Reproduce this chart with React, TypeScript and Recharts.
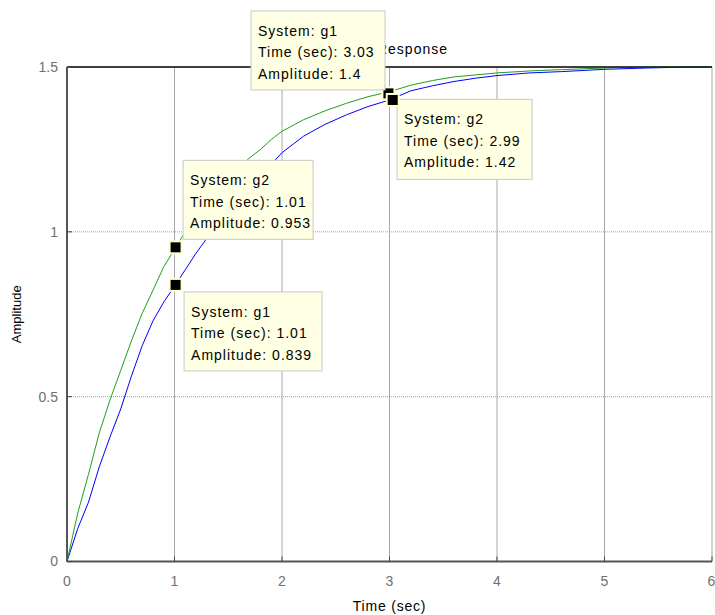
import React from "react";
import {
  LineChart,
  Line,
  XAxis,
  YAxis,
  CartesianGrid,
  ReferenceDot,
  ReferenceLine,
  Label,
} from "recharts";

// step response samples
const times = [
  0, 0.1, 0.2, 0.3, 0.4, 0.5, 0.6, 0.7, 0.8, 0.9, 1.0, 1.1, 1.2, 1.3, 1.4, 1.5,
  1.6, 1.7, 1.8, 1.9, 2.0, 2.2, 2.4, 2.6, 2.8, 3.0, 3.2, 3.4, 3.6, 3.8, 4.0,
  4.3, 4.6, 5.0, 5.4, 5.8, 6.0,
];
const g1Values = [
  0, 0.1, 0.18, 0.287, 0.378, 0.463, 0.563, 0.655, 0.73, 0.787, 0.835, 0.885,
  0.935, 0.98, 1.02, 1.06, 1.095, 1.13, 1.165, 1.205, 1.24, 1.29, 1.326, 1.355,
  1.38, 1.4, 1.428, 1.443, 1.456, 1.466, 1.474, 1.482, 1.486, 1.493, 1.497, 1.5,
  1.5,
];
const g2Values = [
  0, 0.147, 0.265, 0.39, 0.49, 0.58, 0.67, 0.753, 0.823, 0.894, 0.947, 1.0,
  1.05, 1.095, 1.135, 1.165, 1.195, 1.225, 1.25, 1.28, 1.305, 1.34, 1.367, 1.39,
  1.41, 1.425, 1.445, 1.459, 1.47, 1.476, 1.482, 1.488, 1.492, 1.497, 1.5, 1.5,
  1.5,
];

const xTicks = [0, 1, 2, 3, 4, 5, 6];
const yTicks = [0, 0.5, 1, 1.5];
const yGridValues = [0.5, 1];

// data tips
const tipSystems = ["g2", "g1", "g2", "g1"];
const tipTimes = [1.01, 1.01, 2.99, 3.03];
const tipAmplitudes = [0.953, 0.839, 1.42, 1.4];

// box placement relative to the marker (px)
const tipBoxes = [
  { dx: 7.5, dy: -87, w: 130, h: 79 },
  { dx: 8.5, dy: 7, w: 138, h: 79 },
  { dx: 8.6, dy: 6, w: 135, h: 80 },
  { dx: -141.7, dy: -89, w: 134, h: 79 },
];

const data = times.map((t, i) => ({ t, g1: g1Values[i], g2: g2Values[i] }));

const font = "'Liberation Sans', Arial, Helvetica, sans-serif";

const tipShape = (i: number) => (p: any) => {
  const { cx, cy } = p;
  const b = tipBoxes[i];
  const bx = cx + b.dx;
  const by = cy + b.dy;
  const lines = [
    `System: ${tipSystems[i]}`,
    `Time (sec): ${tipTimes[i]}`,
    `Amplitude: ${tipAmplitudes[i]}`,
  ];
  return (
    <g>
      <rect x={cx - 6} y={cy - 6} width={12} height={12} fill="#000" stroke="#ffffd0" strokeWidth={2} />
      <rect x={bx} y={by} width={b.w} height={b.h} fill="#ffffe3" stroke="#c8c8c8" />
      {lines.map((s, k) => (
        <text
          key={k}
          x={bx + 7}
          y={by + 25 + k * 21.3}
          fontSize={14}
          fontFamily={font}
          letterSpacing={1}
          fill="#000"
        >
          {s}
        </text>
      ))}
    </g>
  );
};

export default function App() {
  return (
    <div style={{ position: "absolute", left: 0, top: 0, width: 715, height: 615, background: "#fff" }}>
      <div
        style={{
          position: "absolute",
          left: 0,
          top: 41,
          width: 448,
          textAlign: "right",
          fontFamily: font,
          fontSize: 14,
          letterSpacing: 1,
          color: "#000",
        }}
      >
        Step Response
      </div>
      <div style={{ position: "absolute", left: 0, top: 0 }}>
        <LineChart width={715} height={615} data={data} margin={{ top: 66, right: 3, bottom: 0, left: 0 }}>
          <CartesianGrid horizontal={false} stroke="#a8a8a8" />
          <CartesianGrid
            vertical={false}
            horizontalValues={yGridValues}
            stroke="#a0a0a0"
            strokeDasharray="1 1"
          />
          <XAxis
            dataKey="t"
            type="number"
            domain={[0, 6]}
            ticks={xTicks}
            height={53.5}
            tickSize={-5}
            tickMargin={20}
            axisLine={{ stroke: "#555", strokeWidth: 2 }}
            tickLine={{ stroke: "#444" }}
            tick={{ fill: "#707070", fontSize: 14, fontFamily: font }}
          >
            <Label
              value="Time (sec)"
              position="insideBottom"
              offset={4}
              style={{ fill: "#000", fontSize: 14, fontFamily: font, letterSpacing: 0.8 }}
            />
          </XAxis>
          <XAxis
            xAxisId="top"
            orientation="top"
            dataKey="t"
            type="number"
            domain={[0, 6]}
            ticks={xTicks}
            height={1}
            tick={false}
            tickSize={-5}
            axisLine={{ stroke: "#000" }}
            tickLine={{ stroke: "#444" }}
          />
          <YAxis
            type="number"
            domain={[0, 1.5]}
            ticks={yTicks}
            width={67}
            tickSize={-5}
            tickMargin={14}
            axisLine={{ stroke: "#555", strokeWidth: 2 }}
            tickLine={{ stroke: "#444" }}
            tick={{ fill: "#707070", fontSize: 14, fontFamily: font }}
          >
            <Label
              value="Amplitude"
              angle={-90}
              position="insideLeft"
              offset={16}
              style={{ fill: "#000", fontSize: 13, fontFamily: font, textAnchor: "middle" }}
            />
          </YAxis>
          <ReferenceLine y={1.5} stroke="#000" strokeWidth={1} />
          <Line type="linear" dataKey="g1" stroke="#0000ff" strokeWidth={1} dot={false} isAnimationActive={false} />
          <Line type="linear" dataKey="g2" stroke="#1f9e1f" strokeWidth={1} dot={false} isAnimationActive={false} />
          {tipTimes.map((t, i) => (
            <ReferenceDot key={i} x={t} y={tipAmplitudes[i]} shape={tipShape(i)} />
          ))}
        </LineChart>
      </div>
    </div>
  );
}
